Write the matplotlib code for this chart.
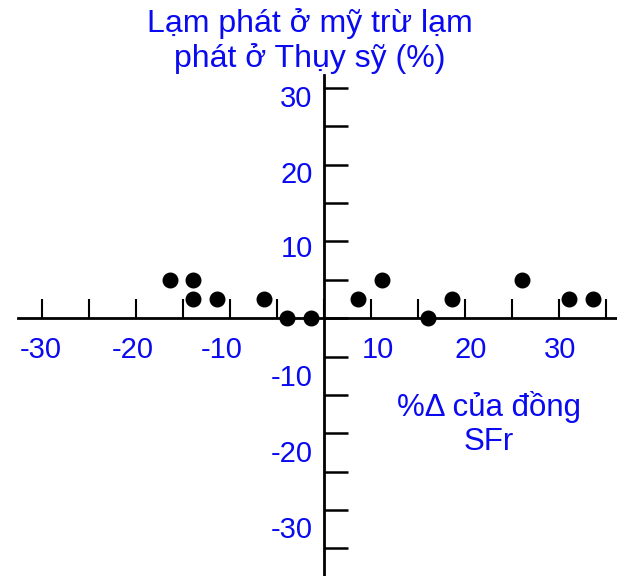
import matplotlib
matplotlib.use("Agg")
import matplotlib.pyplot as plt
import numpy as np

plt.rcParams['font.family'] = ['Liberation Sans', 'DejaVu Sans']

# Data
x_vals = [-16.4, -13.9, -13.9, -11.4, -6.4, -3.9, -1.4, 3.6, 6.2, 11.1, 13.6, 21.1, 26.1, 28.6]
y_vals = [5, 5, 2.5, 2.5, 2.5, 0, 0, 2.5, 5, 0, 2.5, 5, 2.5, 2.5]

x_tick_labels = ['-30', '-20', '-10', '10', '20', '30']
x_label_pos = [-30.1, -20.3, -10.9, 5.7, 15.6, 25.1]
y_tick_labels = ['30', '20', '10', '-10', '-20', '-30']
y_label_pos = [28.6, 18.7, 9.0, -7.8, -17.7, -27.6]

title_text = "Lạm phát ở mỹ trừ lạm\nphát ở Thụy sỹ (%)"
xlabel_text = "%Δ của đồng\nSFr"

BLUE = '#0a0af0'

W, H = 617, 576
fig = plt.figure(figsize=(W / 100, H / 100), dpi=100)
ax = fig.add_axes([18 / W, 0, (W - 18) / W, (H - 75) / H])
ax.set_xlim(-32.55, 31.17)
ax.set_ylim(-33.6, 31.7)

for s in ['top', 'right']:
    ax.spines[s].set_visible(False)
ax.spines['left'].set_position('zero')
ax.spines['bottom'].set_position('zero')
ax.spines['left'].set_linewidth(2.0)
ax.spines['bottom'].set_linewidth(2.0)

ax.set_xticks(np.arange(-30, 31, 5))
ax.set_yticks(np.arange(-30, 31, 5))
ax.tick_params(axis='x', direction='in', length=13.5, width=1.5, labelbottom=False)
ax.tick_params(axis='y', direction='in', length=17, width=1.8, labelleft=False)

ax.scatter(x_vals, y_vals, s=110, color='black', zorder=5, clip_on=False)

for lab, p in zip(x_tick_labels, x_label_pos):
    ax.text(p, -4.1, lab, ha='center', va='center', fontsize=21, color=BLUE)
for lab, p in zip(y_tick_labels, y_label_pos):
    ax.text(-1.2, p, lab, ha='right', va='center', fontsize=21, color=BLUE)

fig.text(310 / W, 1 - 41 / H, title_text, ha='center', va='center',
         fontsize=23, color=BLUE, linespacing=1.15)
fig.text(489 / W, 1 - 424 / H, xlabel_text, ha='center', va='center',
         fontsize=22.5, color=BLUE, linespacing=1.15)

fig.savefig('out.png', dpi=100)
